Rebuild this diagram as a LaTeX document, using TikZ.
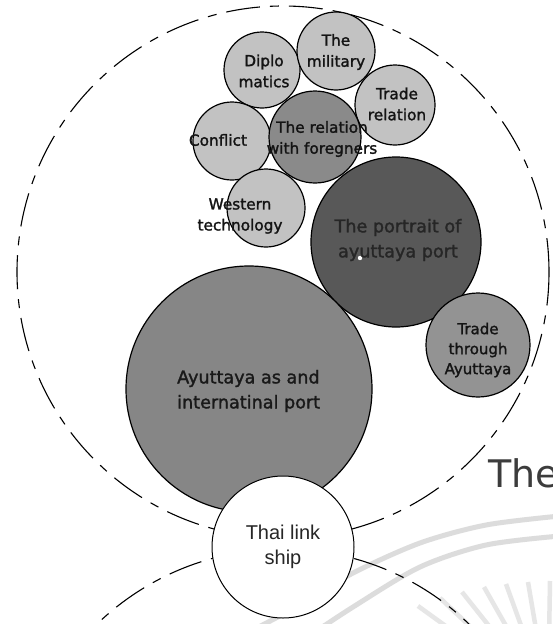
\documentclass[tikz,border=0pt]{standalone}
\usepackage{fontspec}
\setmainfont{DejaVu Sans}
\newfontfamily\lblfont[FakeBold=1.6]{DejaVu Sans}
\newfontfamily\libsans{Liberation Sans}
\definecolor{cLight}{HTML}{C2C2C2}
\definecolor{cRel}{HTML}{8A8A8A}
\definecolor{cPort}{HTML}{585858}
\definecolor{cThru}{HTML}{939393}
\definecolor{cAyut}{HTML}{868686}
\definecolor{cBand}{HTML}{DCDCDC}
\definecolor{cRay}{HTML}{E6E6E6}
\definecolor{cThe}{HTML}{3C3C3C}
\tikzset{
  bubble/.style={circle, draw=black, line width=1.2pt, inner sep=0pt, minimum size=#1},
  dashring/.style={circle, draw=black, line width=1.1pt, inner sep=0pt, minimum size=#1,
    dash pattern=on 34pt off 10pt on 9pt off 10pt},
  lblS/.style={font=\lblfont\fontsize{15.3}{21}\selectfont, align=center, inner sep=0pt, text=black!92},
  lblL/.style={font=\lblfont\fontsize{17.6}{25}\selectfont, align=center, inner sep=0pt, text=black!90},
  wband/.style={draw=cBand, line width=5pt, line cap=round},
  wray/.style={draw=cRay, line width=4.5pt}
}
\begin{document}
\begin{tikzpicture}[x=1pt,y=-1pt]
\useasboundingbox (0,0) rectangle (553,624);
\fill[white] (0,0) rectangle (553,624);
\begin{scope}
\clip (0,0) rectangle (553,624);
% faint watermark arcs and rays
\draw[wband] plot[smooth] coordinates {(230,642) (300,605) (353,573) (420,543) (486,525) (560,516)};
\draw[wband] plot[smooth] coordinates {(300,642) (353,607) (420,567) (486,545) (560,536)};
\coordinate (fan) at (548,700);
\foreach \a/\b in {418/606, 440/598, 462/592, 484/587, 506/584, 528/582, 550/581}{
  \draw[wray] (\a,\b) -- (fan);
}
% dashed rings
\node[dashring=532pt] (ringTop) at (283,272) {};
\node[dashring=536pt] (ringBot) at (283,817) {};
% bubbles
\node[bubble=76pt, fill=cLight] (dip) at (262,70) {};
\node[bubble=78pt, fill=cLight] (mil) at (336,51) {};
\node[bubble=80pt, fill=cLight] (trel) at (395,105) {};
\node[bubble=78pt, fill=cLight] (conf) at (232,141) {};
\node[bubble=78pt, fill=cLight] (west) at (266,208) {};
\node[bubble=92pt, fill=cRel] (rel) at (315,137) {};
\node[bubble=170pt, fill=cPort] (port) at (396,242) {};
\node[bubble=104pt, fill=cThru] (thru) at (478,345) {};
\node[bubble=246pt, fill=cAyut] (ayut) at (249,389) {};
\node[bubble=142pt, fill=white, line width=1pt] (thai) at (283,547) {};
\fill[white] (360,258) circle[radius=2.2pt];
% labels
\node[lblS] (tDip) at (264,71) {Diplo\\matics};
\node[lblS] (tMil) at (336,52) {The\\military};
\node[lblS] (tTrel) at (397,104) {Trade\\relation};
\node[lblS] (tConf) at (218,140) {Conflict};
\node[lblS] (tWest) at (240,216) {Western\\technology};
\node[lblS] (tRel) at (322,139) {The relation\\with foregners};
\node[lblL, text=black!85] (tPort) at (398,240) {The portrait of\\ayuttaya port};
\node[lblS, font=\lblfont\fontsize{15}{20}\selectfont] (tThru) at (478,350) {Trade\\through\\Ayuttaya};
\node[lblL, align=left, anchor=west] (tAyut) at (177,391) {Ayuttaya as and\\internatinal port};
\node[font=\libsans\fontsize{20}{25}\selectfont, align=center, inner sep=0pt, text=black!85] (tThai) at (283,547) {Thai link\\ship};
\node[font=\fontsize{38}{40}\selectfont, text=cThe, inner sep=0pt, anchor=base west] (tThe) at (488,487) {The};
\end{scope}
\end{tikzpicture}
\end{document}
